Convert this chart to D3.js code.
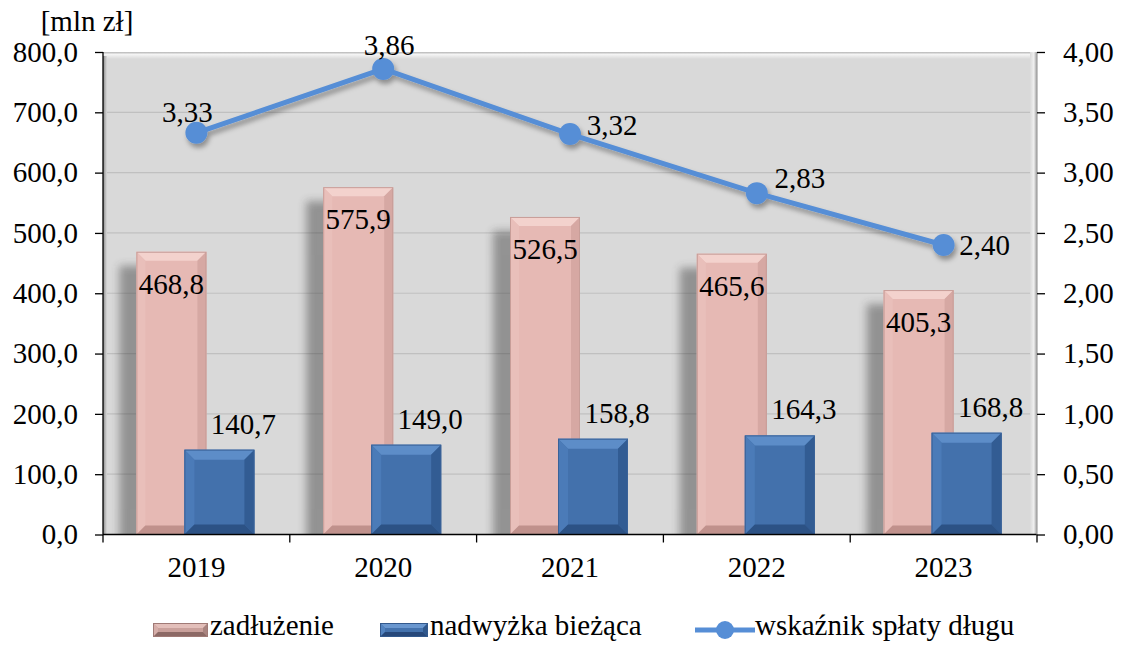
<!DOCTYPE html>
<html>
<head>
<meta charset="utf-8">
<script src="https://cdn.jsdelivr.net/npm/d3@7"></script>
<style>
  body { margin: 0; background: #fff; }
</style>
</head>
<body>
<div class="result"></div>
<script>
// Data
const years = ['2019', '2020', '2021', '2022', '2023'];
const debt = [468.8, 575.9, 526.5, 465.6, 405.3];          // zadłużenie
const surplus = [140.7, 149.0, 158.8, 164.3, 168.8];       // nadwyżka bieżąca
const ratio = [3.33, 3.86, 3.32, 2.83, 2.40];              // wskaźnik spłaty długu
const leftTicks = [0, 100, 200, 300, 400, 500, 600, 700, 800];
const rightTicks = [0, 0.5, 1, 1.5, 2, 2.5, 3, 3.5, 4];

// label offsets for the line points [dx, dy]
const ratioLabelOffset = [[-9, -11], [6, -14], [42, 1], [43, -5], [41, 10]];

// Width and height
const w = 1124;
const h = 645;
const pLeft = 103, pRight = 1037, pTop = 52, pBottom = 534.5;
const FONT = '"Liberation Serif", "Times New Roman", serif';
const FS = 29;
const fmt1 = d => d.toFixed(1).replace('.', ',');
const fmt2 = d => d.toFixed(2).replace('.', ',');

const svg = d3.select('.result')
  .append('svg')
  .attr('width', w)
  .attr('height', h);

const defs = svg.append('defs');

// bar shadow blur
defs.append('filter').attr('id', 'blur')
  .attr('x', '-50%').attr('y', '-50%').attr('width', '200%').attr('height', '200%')
  .append('feGaussianBlur').attr('stdDeviation', 4);

// line shadow
const ls = defs.append('filter').attr('id', 'lineShadow')
  .attr('x', '-20%').attr('y', '-20%').attr('width', '140%').attr('height', '140%');
ls.append('feDropShadow').attr('dx', 2).attr('dy', 4).attr('stdDeviation', 2.5)
  .attr('flood-color', '#000').attr('flood-opacity', 0.35);

defs.append('clipPath').attr('id', 'wallClip')
  .append('rect').attr('x', pLeft).attr('y', pTop).attr('width', pRight - pLeft).attr('height', pBottom - pTop);

// gradients for the wall edges
const gTop = defs.append('linearGradient').attr('id', 'gTop').attr('x1', 0).attr('y1', 0).attr('x2', 0).attr('y2', 1);
gTop.append('stop').attr('offset', '0%').attr('stop-color', '#b5b5b5');
gTop.append('stop').attr('offset', '35%').attr('stop-color', '#f4f4f4');
gTop.append('stop').attr('offset', '100%').attr('stop-color', '#d9d9d9');
const gRight = defs.append('linearGradient').attr('id', 'gRight').attr('x1', 0).attr('y1', 0).attr('x2', 1).attr('y2', 0);
gRight.append('stop').attr('offset', '0%').attr('stop-color', '#d9d9d9');
gRight.append('stop').attr('offset', '55%').attr('stop-color', '#f0f0f0');
gRight.append('stop').attr('offset', '100%').attr('stop-color', '#9a9a9a');
const gLeft = defs.append('linearGradient').attr('id', 'gLeft').attr('x1', 0).attr('y1', 0).attr('x2', 1).attr('y2', 0);
gLeft.append('stop').attr('offset', '0%').attr('stop-color', '#8a8a8a');
gLeft.append('stop').attr('offset', '100%').attr('stop-color', '#d9d9d9');

// Scales
const xScale = d3.scaleBand().domain(years).range([pLeft, pRight]);
const yScale = d3.scaleLinear().domain([0, 800]).range([pBottom, pTop]);
const y2Scale = d3.scaleLinear().domain([0, 4]).range([pBottom, pTop]);

const barW = 70;
const debtX = d => xScale(d) + xScale.bandwidth() / 2 - 60;
const surpX = d => xScale(d) + xScale.bandwidth() / 2 - 12;
const cx = d => xScale(d) + xScale.bandwidth() / 2;

// Wall
svg.append('rect')
  .attr('x', pLeft).attr('y', pTop).attr('width', pRight - pLeft).attr('height', pBottom - pTop)
  .attr('fill', '#d9d9d9');
svg.append('rect')
  .attr('x', pLeft).attr('y', pTop).attr('width', pRight - pLeft).attr('height', 7)
  .attr('fill', 'url(#gTop)');
svg.append('rect')
  .attr('x', pRight - 7).attr('y', pTop).attr('width', 7).attr('height', pBottom - pTop)
  .attr('fill', 'url(#gRight)');
svg.append('rect')
  .attr('x', pLeft).attr('y', pTop + 4).attr('width', 4).attr('height', pBottom - pTop - 4)
  .attr('fill', 'url(#gLeft)');

// Gridlines
svg.append('g')
  .selectAll('line')
  .data(leftTicks.slice(1, -1))
  .enter()
  .append('line')
  .attr('x1', pLeft + 4).attr('x2', pRight - 7)
  .attr('y1', d => yScale(d)).attr('y2', d => yScale(d))
  .attr('stroke', '#c0c0c0').attr('stroke-width', 1.2);

// Bar shadows
const shadows = svg.append('g').attr('clip-path', 'url(#wallClip)')
  .append('g').attr('filter', 'url(#blur)').attr('opacity', 0.42);
shadows.selectAll('.sd')
  .data(years)
  .enter()
  .append('rect')
  .attr('x', (d) => debtX(d) - 17)
  .attr('y', (d, i) => yScale(debt[i]) + 14)
  .attr('width', barW)
  .attr('height', (d, i) => pBottom - yScale(debt[i]) + 10)
  .attr('fill', '#333');
shadows.selectAll('.ss')
  .data(years)
  .enter()
  .append('rect')
  .attr('x', (d) => surpX(d) - 14)
  .attr('y', (d, i) => yScale(surplus[i]) + 10)
  .attr('width', barW)
  .attr('height', (d, i) => pBottom - yScale(surplus[i]) + 10)
  .attr('fill', '#333');

// Beveled bar
function bevelBar(g, x, y, bw, bh, b, c) {
  const x2 = x + bw, y2 = y + bh;
  const poly = pts => g.append('polygon').attr('points', pts.map(p => p.join(',')).join(' '));
  poly([[x, y], [x2, y], [x2, y2], [x, y2]]).attr('fill', c.face);
  poly([[x, y], [x2, y], [x2 - b, y + b], [x + b, y + b]]).attr('fill', c.top);
  poly([[x, y], [x + b, y + b], [x + b, y2 - b], [x, y2]]).attr('fill', c.left);
  poly([[x2, y], [x2, y2], [x2 - b, y2 - b], [x2 - b, y + b]]).attr('fill', c.right);
  poly([[x, y2], [x + b, y2 - b], [x2 - b, y2 - b], [x2, y2]]).attr('fill', c.bottom);
  g.append('rect').attr('x', x + 0.5).attr('y', y + 0.5).attr('width', bw - 1).attr('height', bh - 1)
    .attr('fill', 'none').attr('stroke', c.edge).attr('stroke-width', 1);
}

const pink = { face: '#e6b9b4', top: '#f3d2cd', left: '#e9bfba', right: '#d6a8a3', bottom: '#c0918c', edge: '#c79d98' };
const blue = { face: '#4371ac', top: '#5d8dc8', left: '#4b7bb8', right: '#325c93', bottom: '#2c5285', edge: '#3a6298' };
const pinkLeg = { face: '#c9a09b', top: '#e3bfba', left: '#d6aea9', right: '#a98480', bottom: '#8c6965', edge: '#a07a76' };
const blueLeg = { face: '#4472ad', top: '#6a97cf', left: '#5283c0', right: '#2f578c', bottom: '#27487a', edge: '#33598d' };

const bars = svg.append('g');
years.forEach((yr, i) => {
  const yd = yScale(debt[i]);
  bevelBar(bars.append('g'), debtX(yr), yd, barW, pBottom - yd, 9, pink);
});
years.forEach((yr, i) => {
  const ys = yScale(surplus[i]);
  bevelBar(bars.append('g'), surpX(yr), ys, barW, pBottom - ys, 10, blue);
});

// Bar labels
svg.append('g')
  .selectAll('text')
  .data(years)
  .enter()
  .append('text')
  .attr('x', d => debtX(d) + barW / 2)
  .attr('y', (d, i) => yScale(debt[i]) + 42)
  .attr('text-anchor', 'middle')
  .attr('font-size', FS)
  .style('font-family', FONT)
  .text((d, i) => fmt1(debt[i]));

svg.append('g')
  .selectAll('text')
  .data(years)
  .enter()
  .append('text')
  .attr('x', d => surpX(d) + barW / 2 + 24)
  .attr('y', (d, i) => yScale(surplus[i]) - 16)
  .attr('text-anchor', 'middle')
  .attr('font-size', FS)
  .style('font-family', FONT)
  .text((d, i) => fmt1(surplus[i]));

// Axes
const xAxis = d3.axisBottom(xScale).tickSize(0).tickPadding(22).tickFormat(d => d);
const yAxis = d3.axisLeft(yScale).tickValues(leftTicks).tickSize(8).tickPadding(17).tickFormat(fmt1);
const y2Axis = d3.axisRight(y2Scale).tickValues(rightTicks).tickSize(8).tickPadding(18).tickFormat(fmt2);

const styleAxis = g => {
  g.select('.domain').attr('stroke', '#000').attr('stroke-width', 1.3);
  g.selectAll('.tick line').attr('stroke', '#000').attr('stroke-width', 1.3);
  g.selectAll('.tick text').attr('font-size', FS).style('font-family', FONT).attr('fill', '#000');
};

svg.append('g')
  .attr('transform', 'translate(0,' + pBottom + ')')
  .call(xAxis)
  .call(styleAxis)
  .call(g => g.select('.domain').attr('d', 'M' + pLeft + ',0H' + pRight));

// category separators on x axis
svg.append('g')
  .selectAll('line')
  .data(years)
  .enter()
  .append('line')
  .attr('x1', d => xScale(d)).attr('x2', d => xScale(d))
  .attr('y1', pBottom).attr('y2', pBottom + 8)
  .attr('stroke', '#000').attr('stroke-width', 1.3);
svg.append('line')
  .attr('x1', pRight).attr('x2', pRight).attr('y1', pBottom).attr('y2', pBottom + 8)
  .attr('stroke', '#000').attr('stroke-width', 1.3);

svg.append('g')
  .attr('transform', 'translate(' + pLeft + ',0)')
  .call(yAxis)
  .call(styleAxis)
  .call(g => g.select('.domain').attr('d', 'M0,' + pTop + 'V' + pBottom));

svg.append('g')
  .attr('transform', 'translate(' + pRight + ',0)')
  .call(y2Axis)
  .call(styleAxis)
  .call(g => g.select('.domain').attr('stroke', '#a6a6a6').attr('d', 'M0,' + pTop + 'V' + pBottom));

// Line series
const lineColor = '#568ed6';
const line = d3.line()
  .x((d, i) => cx(years[i]))
  .y(d => y2Scale(d));

const lineG = svg.append('g').attr('filter', 'url(#lineShadow)');
lineG.append('path')
  .datum(ratio)
  .attr('d', line)
  .attr('fill', 'none')
  .attr('stroke', lineColor)
  .attr('stroke-width', 5)
  .attr('stroke-linejoin', 'round');
lineG.selectAll('circle')
  .data(ratio)
  .enter()
  .append('circle')
  .attr('cx', (d, i) => cx(years[i]))
  .attr('cy', d => y2Scale(d))
  .attr('r', 11)
  .attr('fill', lineColor);

svg.append('g')
  .selectAll('text')
  .data(ratio)
  .enter()
  .append('text')
  .attr('x', (d, i) => cx(years[i]) + ratioLabelOffset[i][0])
  .attr('y', (d, i) => y2Scale(d) + ratioLabelOffset[i][1])
  .attr('text-anchor', 'middle')
  .attr('font-size', FS)
  .style('font-family', FONT)
  .text(d => fmt2(d));

// Unit label
svg.append('text')
  .attr('x', 87).attr('y', 31)
  .attr('text-anchor', 'middle')
  .attr('font-size', FS)
  .style('font-family', FONT)
  .text('[mln zł]');

// Legend
const legend = svg.append('g').attr('transform', 'translate(0,630)');
bevelBar(legend.append('g'), 153, -7, 55, 14, 5, pinkLeg);
legend.append('text').attr('x', 210).attr('y', 5).attr('font-size', FS).style('font-family', FONT).text('zadłużenie');
bevelBar(legend.append('g'), 380, -7, 48, 14, 5, blueLeg);
legend.append('text').attr('x', 430).attr('y', 5).attr('font-size', FS).style('font-family', FONT).text('nadwyżka bieżąca');
legend.append('line').attr('x1', 695).attr('x2', 755).attr('y1', 0).attr('y2', 0)
  .attr('stroke', lineColor).attr('stroke-width', 5);
legend.append('circle').attr('cx', 725).attr('cy', 0).attr('r', 9).attr('fill', lineColor);
legend.append('text').attr('x', 755).attr('y', 5).attr('font-size', FS).style('font-family', FONT).text('wskaźnik spłaty długu');
</script>
</body>
</html>
